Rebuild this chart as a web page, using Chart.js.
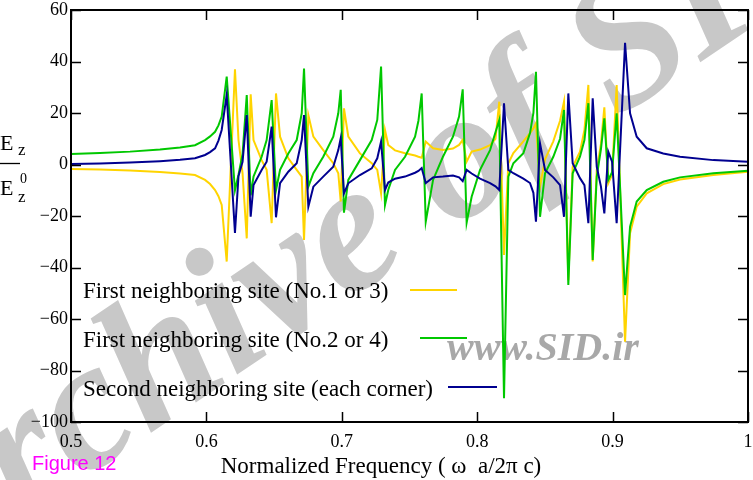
<!DOCTYPE html>
<html><head><meta charset="utf-8">
<script src="https://cdn.jsdelivr.net/npm/chart.js@4.4.1/dist/chart.umd.min.js"></script>
<style>html,body{margin:0;padding:0;background:#fff;overflow:hidden}canvas{display:block}</style>
</head><body>
<canvas id="c" width="753" height="480"></canvas>
<script>
// Normalized frequency (ω a / 2π c)
const freq = [0.500,0.5214,0.5436,0.5657,0.5805,0.5916,0.5990,0.6027,0.6064,0.6089,0.6113,0.6150,
  0.6211,0.6237,0.6267,0.6298,0.6327,0.6348,0.6408,0.6445,0.6482,0.6514,
  0.6544,0.6605,0.6667,0.6704,0.6721,0.6753,0.6790,0.6863,0.6937,0.6974,
  0.6992,0.7016,0.7048,0.7134,0.7221,0.7262,0.7290,0.7319,0.7343,0.7393,
  0.7467,0.7541,0.7566,0.7590,0.7620,0.7674,0.7747,0.7821,0.7866,0.7893,
  0.7922,0.7959,0.8021,0.8095,0.8135,0.8163,0.8198,0.8230,0.8267,0.8341,
  0.8390,0.8415,0.8434,0.8464,0.8501,0.8562,0.8612,0.8641,0.8673,0.8705,
  0.8759,0.8792,0.8821,0.8853,0.8883,0.8914,0.8939,0.8968,0.8996,0.9030,
  0.9092,0.9129,0.9178,0.9252,0.9374,0.9498,0.9744,1.000];
// First neighboring site (No.1 or 3) – yellow
const site13 = [-1.7,-1.9,-2.3,-2.9,-3.5,-4.1,-6.0,-7.6,-9.9,-12.3,-15.7,-37.7,
  37.0,9.5,-3.4,-28.7,27.3,9.5,1.7,-2.1,-22.8,27.6,
  10.8,2.4,-2.1,-4.7,-29.3,19.2,10.8,5.6,0.5,-3.4,
  -14.4,21.8,10.8,4.3,0.5,-2.1,-11.2,13.4,7.6,5.5,
  4.4,3.5,3.0,2.6,8.9,6.3,5.6,6.2,7.6,9.5,
  1.1,5.0,5.8,7.5,10.0,24.4,-35.1,0.5,4.4,9.0,
  12.2,14.0,16.0,-8.6,2.0,9.0,17.0,24.4,-44.9,-1.0,
  5.0,13.4,30.9,-37.7,-2.1,8.0,22.2,-7.3,-4.0,30.9,
  -68.8,-26.7,-16.4,-11.2,-7.6,-5.8,-4.1,-2.8];
// First neighboring site (No.2 or 4) – green
const site24 = [4.1,4.5,5.0,5.8,6.6,7.5,9.5,10.9,12.7,15.2,18.6,34.1,
  -10.0,-4.0,4.0,27.0,-12.0,-4.7,3.0,9.5,25.0,-10.0,
  -2.1,4.3,9.5,19.9,37.3,-8.6,-3.4,3.0,10.8,19.9,
  29.0,-18.7,-6.0,1.7,9.5,17.3,38.0,-15.7,-9.9,-2.1,
  3.0,10.8,17.0,27.6,-22.2,-6.0,3.0,10.8,18.6,29.2,
  -22.6,-12.5,-2.1,5.6,12.5,17.3,-90.8,-4.7,0.5,4.4,
  12.2,20.0,36.0,-20.3,-3.4,3.0,10.0,21.2,-46.8,-3.4,
  3.0,9.5,23.8,-37.1,-4.7,6.0,17.9,-6.0,-3.0,19.9,
  -50.7,-24.1,-14.4,-9.9,-6.7,-5.0,-3.4,-2.4];
// Second neighboring site (each corner) – blue
const corner = [0.2,0.4,0.8,1.3,1.8,2.4,3.7,4.8,6.3,9.3,13.4,27.0,
  -26.6,-4.5,1.0,19.2,-20.3,-8.0,-2.1,1.1,14.7,-20.5,
  -7.2,-2.8,0.5,9.5,19.2,-16.4,-8.6,-4.7,-0.9,5.6,
  10.2,-11.2,-7.3,-4.1,-1.5,2.4,8.9,-9.9,-7.0,-5.5,
  -4.7,-3.2,-2.5,-1.4,-7.2,-5.0,-4.7,-4.3,-5.0,-6.5,
  -2.1,-3.5,-5.5,-7.2,-8.5,-9.9,23.8,-2.1,-3.4,-5.5,
  -7.2,-11.0,-22.2,8.2,-2.1,-5.0,-8.0,-20.3,27.6,0.5,
  -5.3,-8.0,-22.8,25.7,-0.9,-8.6,-19.0,5.0,1.1,-22.8,
  47.3,19.9,10.8,6.3,4.3,3.0,1.7,1.1];

const seriesLabels = ['First neighboring site (No.1 or 3)','First neighboring site (No.2 or 4)','Second neighboring site (each corner)'];
const seriesColors = ['#ffd400','#00c800','#000090'];
const xTickValues = [0.5,0.6,0.7,0.8,0.9,1.0];
const yTickValues = [-100,-80,-60,-40,-20,0,20,40,60];

const SERIF = '"Liberation Serif","Times New Roman",serif';
const toPts = ys => freq.map((f,i)=>({x:f,y:ys[i]}));

const decor = {
  id:'decor',
  beforeDraw(chart){
    const ctx = chart.ctx;
    ctx.save();
    ctx.fillStyle='#fff'; ctx.fillRect(0,0,chart.width,chart.height);
    // big diagonal watermark
    ctx.fillStyle='#c8c8c8';
    ctx.font='italic bold 185px '+SERIF;
    ctx.translate(-82,590);
    ctx.rotate(-34*Math.PI/180);
    ctx.textBaseline='alphabetic';
    ctx.fillText('Archive of SID',0,0);
    ctx.restore();
    ctx.save();
    ctx.fillStyle='#a8a8a8';
    ctx.font='italic bold 40px '+SERIF;
    ctx.textBaseline='alphabetic';
    ctx.fillText('www.SID.ir',447,360);
    ctx.restore();
  },
  afterDraw(chart){
    const ctx = chart.ctx, a = chart.chartArea;
    const xs = chart.scales.x, ys = chart.scales.y;
    ctx.save();
    ctx.strokeStyle='#000'; ctx.lineWidth=2;
    ctx.strokeRect(a.left,a.top,a.right-a.left,a.bottom-a.top);
    ctx.lineWidth=1.5;
    ctx.beginPath();
    xTickValues.forEach(v=>{
      const p = Math.round(xs.getPixelForValue(v))+0.5;
      ctx.moveTo(p,a.bottom); ctx.lineTo(p,a.bottom-10);
      ctx.moveTo(p,a.top); ctx.lineTo(p,a.top+10);
    });
    yTickValues.forEach(v=>{
      const p = Math.round(ys.getPixelForValue(v))+0.5;
      ctx.moveTo(a.left,p); ctx.lineTo(a.left+10,p);
      ctx.moveTo(a.right,p); ctx.lineTo(a.right-10,p);
    });
    ctx.stroke();

    // legend
    const rows = [{ty:298,ly:290,x0:410,x1:457},{ty:347,ly:338,x0:420,x1:467},{ty:396,ly:387,x0:448,x1:497}];
    ctx.font='23px '+SERIF; ctx.fillStyle='#000'; ctx.textBaseline='alphabetic'; ctx.textAlign='left';
    rows.forEach((r,i)=>{
      ctx.fillStyle='#000';
      ctx.fillText(seriesLabels[i],83,r.ty);
      ctx.strokeStyle=seriesColors[i]; ctx.lineWidth=2;
      ctx.beginPath(); ctx.moveTo(r.x0,r.ly); ctx.lineTo(r.x1,r.ly); ctx.stroke();
    });

    // x title
    ctx.fillStyle='#000';
    ctx.font='23px '+SERIF; ctx.textAlign='center';
    ctx.fillText('Normalized Frequency ( \u03c9  a/2\u03c0 c)',381,473);

    // Figure label
    ctx.fillStyle='#ff00ff';
    ctx.font='20px "Liberation Sans",Arial,sans-serif'; ctx.textAlign='left';
    ctx.fillText('Figure 12',32,470);

    // y title (fraction)
    ctx.fillStyle='#000';
    ctx.font='22px '+SERIF;
    ctx.fillText('E',0,150);
    ctx.fillText('E',0,195);
    ctx.font='17px '+SERIF;
    ctx.fillText('z',18,155);
    ctx.fillText('z',18,202);
    ctx.font='14px '+SERIF;
    ctx.fillText('0',20,183);
    ctx.lineWidth=1.3; ctx.strokeStyle='#000';
    ctx.beginPath(); ctx.moveTo(0,163.5); ctx.lineTo(20,163.5); ctx.stroke();
    ctx.restore();
  }
};

const ds = (i,vals,order)=>({label:seriesLabels[i],data:toPts(vals),borderColor:seriesColors[i],
  backgroundColor:seriesColors[i],borderWidth:2,pointRadius:0,tension:0,fill:false,order:order});

new Chart(document.getElementById('c'),{
  type:'line',
  data:{datasets:[ds(0,site13,3),ds(1,site24,2),ds(2,corner,1)]},
  options:{
    responsive:false, animation:false, devicePixelRatio:1,
    layout:{padding:{left:0,right:5,top:10,bottom:0}},
    plugins:{legend:{display:false},tooltip:{enabled:false},title:{display:false}},
    scales:{
      x:{type:'linear',min:0.5,max:1.0,
        afterBuildTicks:s=>{s.ticks=xTickValues.map(v=>({value:v}));},
        afterFit:s=>{s.height=58; s.paddingLeft=0; s.paddingRight=0;},
        grid:{display:false,drawTicks:false},border:{display:false},
        ticks:{color:'#000',font:{family:SERIF,size:18},padding:9,maxRotation:0,autoSkip:false,
          callback:v=> v===1?'1':Number(v).toFixed(1)}},
      y:{type:'linear',min:-100,max:60,
        afterBuildTicks:s=>{s.ticks=yTickValues.map(v=>({value:v}));},
        afterFit:s=>{s.width=71; s.paddingTop=0; s.paddingBottom=0;},
        grid:{display:false,drawTicks:false},border:{display:false},
        ticks:{color:'#000',font:{family:SERIF,size:18},padding:3,autoSkip:false,
          callback:v=>String(v).replace('-','\u2212')}}
    }
  },
  plugins:[decor]
});
</script>
</body></html>
